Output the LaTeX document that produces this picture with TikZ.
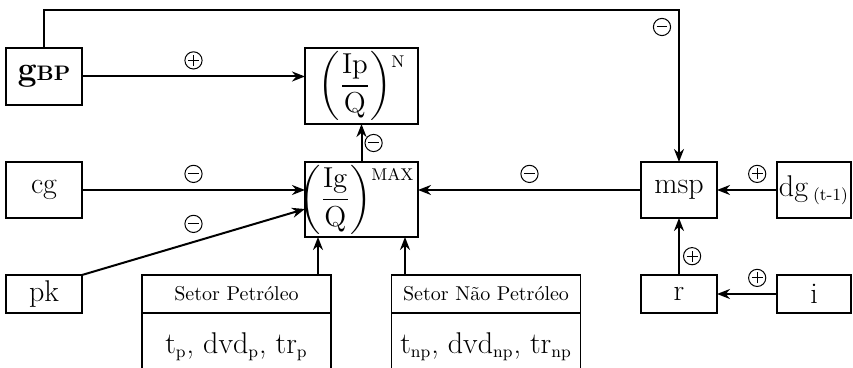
\documentclass[tikz,border=0pt]{standalone}
\usepackage{amsmath}
\usetikzlibrary{arrows.meta,positioning}

\tikzset{
  box/.style={draw, line width=0.7pt, inner sep=0pt, outer sep=0pt, font=\fontsize{15}{17}\selectfont},
  hdr/.style={box, font=\fontsize{10}{12}\selectfont},
  arr/.style={-{Stealth[length=6.5pt,width=5pt]}, line width=1pt},
  sgn/.style={circle, draw, solid, line width=0.5pt, minimum size=8.6pt, inner sep=0pt},
  plus/.style={sgn, path picture={
    \draw[-, line width=0.5pt] ([xshift=-2.7pt]path picture bounding box.center) -- ([xshift=2.7pt]path picture bounding box.center);
    \draw[-, line width=0.5pt] ([yshift=-2.7pt]path picture bounding box.center) -- ([yshift=2.7pt]path picture bounding box.center);}},
  minus/.style={sgn, path picture={
    \draw[-, line width=0.5pt] ([xshift=-2.7pt]path picture bounding box.center) -- ([xshift=2.7pt]path picture bounding box.center);}},
}
\newcommand{\sups}[1]{\raisebox{13pt}{\fontsize{8.5}{10}\selectfont #1}}
\newcommand{\sbs}[1]{\textsubscript{\fontsize{8.5}{9}\selectfont #1}}

\begin{document}
\begin{tikzpicture}[x=0.5pt,y=-0.5pt]
\useasboundingbox (0,0) rectangle (853,368);
\clip (0,0) rectangle (853,368);

\node[box, minimum width=38pt, minimum height=28.5pt] (gbp) at (44,76.5) {\fontsize{17}{19}\selectfont\textbf{g}{\fontsize{10.5}{12}\selectfont\textbf{BP}}};
\node[box, minimum width=38pt, minimum height=28pt] (cg) at (44,190) {cg};
\node[box, minimum width=38pt, minimum height=19pt] (pk) at (44,294) {pk};
\node[box, minimum width=56.5pt, minimum height=38pt, text width=56.5pt, align=center] (ipq) at (361.5,86) {$\left(\dfrac{\mathrm{Ip}}{\mathrm{Q}}\right)$\sups{N}};
\node[box, minimum width=56.5pt, minimum height=37.5pt, text width=56.5pt, align=center] (igq) at (361.5,199.5) {\hspace*{-5pt}$\left(\dfrac{\mathrm{Ig}}{\mathrm{Q}}\right)$\sups{MAX}};
\node[box, minimum width=38pt, minimum height=28pt] (msp) at (679,190) {msp};
\node[box, minimum width=37pt, minimum height=28pt] (dg) at (814,190) {dg\,\sbs{(t-1)}};
\node[box, minimum width=38pt, minimum height=19pt] (r) at (679,294) {r};
\node[box, minimum width=37pt, minimum height=19pt] (i) at (814,294) {i};

% setores
\node[hdr, minimum width=94.5pt, minimum height=19pt] (spt) at (236.5,294) {Setor Petróleo};
\node[box, minimum width=94.5pt, minimum height=34pt, below=0pt of spt] (sptv) {t\sbs{p}, dvd\sbs{p}, tr\sbs{p}};
\node[hdr, minimum width=94.5pt, minimum height=19pt] (snp) at (486,294) {Setor Não Petróleo};
\node[box, minimum width=94.5pt, minimum height=34pt, below=0pt of snp] (snpv) {t\sbs{np}, dvd\sbs{np}, tr\sbs{np}};

\coordinate (sp1) at (318,275);
\coordinate (sp2) at (405,275);

\draw[arr] (gbp.east) -- node[plus, above=3.5pt] (s1) {} (gbp.east -| ipq.west);
\draw[arr] (cg.east) -- node[minus, above=3.5pt] (s2) {} (cg.east -| igq.west);
\draw[arr] (pk.north east) -- node[minus, above=4.5pt] (s3) {} ([yshift=-4.75pt]igq.west);
\draw[arr] (igq.north) -- node[minus, right=1.5pt] (s4) {} (ipq.south);
\draw[arr] (msp.west) -- node[minus, above=3.5pt] (s5) {} (msp.west -| igq.east);
\draw[arr] (dg.west) -- node[plus, above=3.5pt, pos=0.33] (s6) {} (msp.east);
\draw[arr] (r.north) -- node[plus, right=2pt, pos=0.33] (s8) {} (msp.south);
\draw[arr] (i.west) -- node[plus, above=3.5pt, pos=0.33] (s9) {} (r.east);
\draw[arr] (sp1) -- (sp1 |- igq.south);
\draw[arr] (sp2) -- (sp2 |- igq.south);
\draw[arr] (gbp.north) -- ++(0,-38) -| (msp.north);
\node[minus] (s7) at (662,27) {};
\end{tikzpicture}
\end{document}
